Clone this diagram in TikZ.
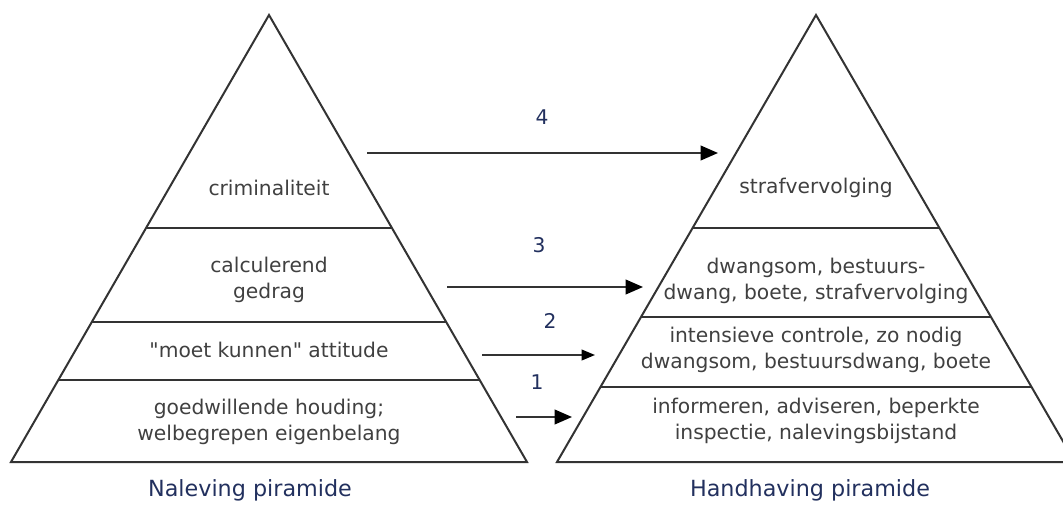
\documentclass[tikz,border=0pt]{standalone}
\usepackage{fontspec}
\setmainfont{DejaVu Sans}
\usepackage{xcolor}
\usetikzlibrary{arrows.meta,calc}

\definecolor{edge}{HTML}{333333}
\definecolor{txt}{HTML}{404040}
\definecolor{capt}{HTML}{22305E}

\tikzset{
  layer/.style={font=\fontsize{15.2}{19.5}\selectfont, text=txt, align=center, inner sep=0pt},
  stepnum/.style={font=\fontsize{15.2}{19.5}\selectfont, text=capt, inner sep=0pt},
  caption/.style={font=\fontsize{16.7}{20}\selectfont, text=capt, inner sep=0pt},
  link/.style={line width=1.3pt, draw=edge, -{Triangle[length=13pt,width=11pt,color=black]}}
}

\begin{document}
\begin{tikzpicture}[x=0.75pt, y=-0.75pt]
  \useasboundingbox (0,0) rectangle (1063,507);
  \clip (0,0) rectangle (1063,507);
  % Naleving pyramid
  \coordinate (ntop) at (269,15);
  \coordinate (nleft) at (11,462);
  \coordinate (nright) at (527,462);
  \draw[edge, line width=1.5pt, line join=miter] (ntop) -- (nleft) -- (nright) -- cycle;
  \draw[edge, line width=1.5pt] ($(ntop)!0.4765!(nleft)$) -- ($(ntop)!0.4765!(nright)$);
  \draw[edge, line width=1.5pt] ($(ntop)!0.687!(nleft)$) -- ($(ntop)!0.687!(nright)$);
  \draw[edge, line width=1.5pt] ($(ntop)!0.8166!(nleft)$) -- ($(ntop)!0.8166!(nright)$);
  \node[layer] (crim) at (269,188) {criminaliteit};
  \node[layer] (calc) at (269,280) {calculerend\\gedrag};
  \node[layer] (moet) at (269,350) {\textquotedbl moet kunnen\textquotedbl{} attitude};
  \node[layer] (goed) at (269,422) {goedwillende houding;\\welbegrepen eigenbelang};
  \node[caption] (nalev) at (250,490) {Naleving piramide};
  % Handhaving pyramid
  \coordinate (htop) at (816,15);
  \coordinate (hleft) at (557,462);
  \coordinate (hright) at (1075,462);
  \draw[edge, line width=1.5pt, line join=miter] (htop) -- (hleft) -- (hright) -- cycle;
  \draw[edge, line width=1.5pt] ($(htop)!0.4765!(hleft)$) -- ($(htop)!0.4765!(hright)$);
  \draw[edge, line width=1.5pt] ($(htop)!0.6756!(hleft)$) -- ($(htop)!0.6756!(hright)$);
  \draw[edge, line width=1.5pt] ($(htop)!0.8322!(hleft)$) -- ($(htop)!0.8322!(hright)$);
  \node[layer] (straf) at (816,188) {strafvervolging};
  \node[layer] (dwang) at (816,281) {dwangsom, bestuurs-\\dwang, boete, strafvervolging};
  \node[layer] (contr) at (816,350) {intensieve controle, zo nodig\\dwangsom, bestuursdwang, boete};
  \node[layer] (info) at (816,421) {informeren, adviseren, beperkte\\inspectie, nalevingsbijstand};
  \node[caption] (handh) at (810,490) {Handhaving piramide};
  % Arrows
  \coordinate (a4) at (367,153);  \coordinate (b4) at (718,153);
  \coordinate (a3) at (447,287);  \coordinate (b3) at (643,287);
  \coordinate (a2) at (482,355);  \coordinate (b2) at (595,355);
  \coordinate (a1) at (516,417);  \coordinate (b1) at (572,417);
  \draw[link] (a4) -- (b4);
  \draw[link] (a3) -- (b3);
  \draw[link, -{Triangle[length=10pt,width=8pt,color=black]}] (a2) -- (b2);
  \draw[link] (a1) -- (b1);
  \node[stepnum] (n4) at (542,117) {4};
  \node[stepnum] (n3) at (539,245) {3};
  \node[stepnum] (n2) at (550,321) {2};
  \node[stepnum] (n1) at (537,382) {1};
\end{tikzpicture}
\end{document}
